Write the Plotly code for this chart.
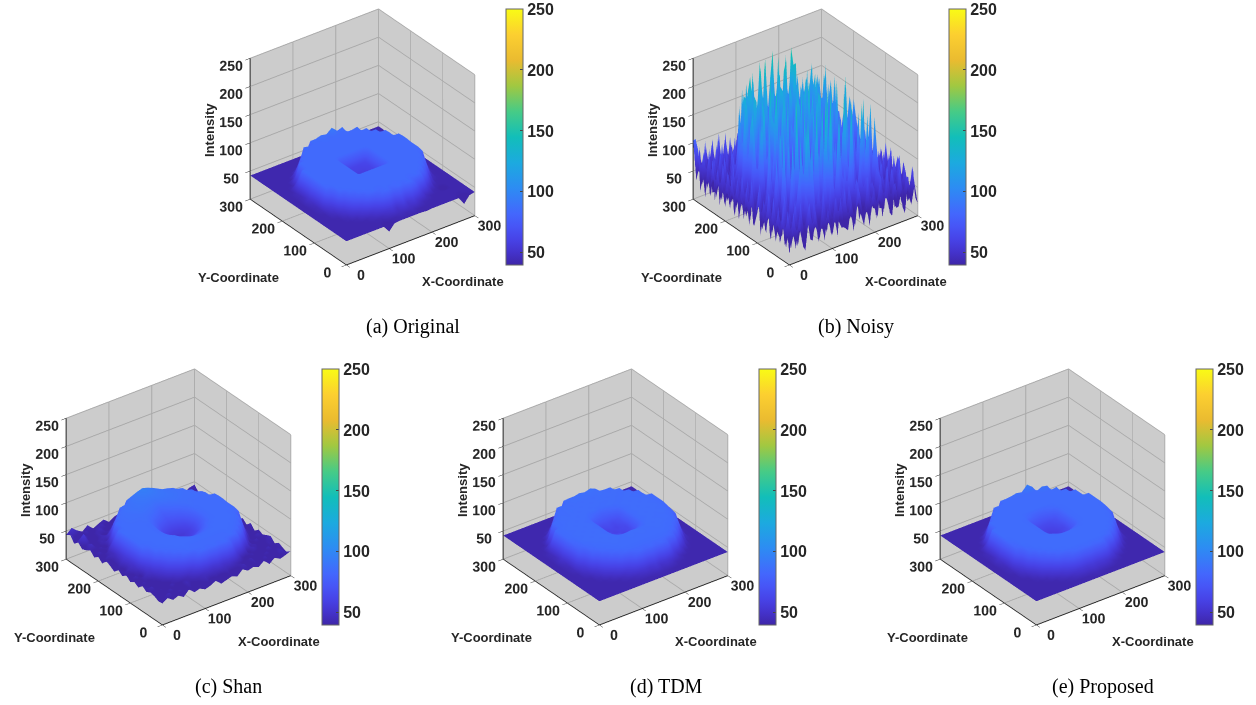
import plotly.graph_objects as go

W, H = 1256, 705
PARULA = [[0.0,"#3e26a8"],[0.05,"#4433cc"],[0.1,"#4743e7"],[0.15,"#4755f6"],[0.2,"#4367fd"],[0.3,"#2d8cf3"],[0.4,"#1caadf"],[0.5,"#12beb9"],[0.6,"#47cb86"],[0.7,"#a1c841"],[0.8,"#eabb30"],[0.9,"#fccf30"],[1.0,"#f9fb15"]]
coords = [0,12.5,25,37.5,50,62.5,75,87.5,100,112.5,125,137.5,150,162.5,175,187.5,200,212.5,225,237.5,250,262.5,275,287.5,300]
coords_noisy = [0,7.5,15,22.5,30,37.5,45,52.5,60,67.5,75,82.5,90,97.5,105,112.5,120,127.5,135,142.5,150,157.5,165,172.5,180,187.5,195,202.5,210,217.5,225,232.5,240,247.5,255,262.5,270,277.5,285,292.5,300]

Z_ORIGINAL = [
[42,42,42,42,42,42,42,42,30,41,42,42,42,42,42,41,42,42,42,42,42,42,28,40,42],
[42,42,42,42,42,42,42,42,40,42,43,46,44,47,43,42,42,42,42,42,42,42,41,42,42],
[42,42,42,42,42,42,42,43,45,52,58,50,64,52,60,50,44,43,42,42,42,42,42,42,42],
[42,42,42,42,42,42,43,50,64,80,84,78,84,80,84,78,62,48,43,42,42,42,42,42,42],
[42,42,42,42,42,45,60,80,84,82,84,84,83,84,84,82,84,80,58,44,42,38,42,42,42],
[42,42,42,42,46,66,82,84,84,84,84,84,84,84,84,84,84,84,82,62,44,42,42,42,42],
[42,42,42,43,58,82,84,84,84,84,84,84,84,84,84,84,84,84,84,80,56,43,42,42,42],
[42,42,43,50,82,84,84,84,84,84,84,84,84,84,84,84,84,84,84,84,80,48,43,42,42],
[42,42,43,62,84,84,84,84,84,84,84,84,84,84,84,84,84,84,84,84,84,60,43,42,42],
[42,42,46,82,84,84,84,84,84,84,84,84,84,84,84,84,84,84,84,84,84,82,46,42,42],
[42,42,46,84,84,84,84,84,84,84,62,62,61,62,63,84,84,84,84,84,84,84,46,42,42],
[42,42,48,84,84,84,84,84,84,84,62,60,59,60,62,84,84,84,84,84,84,84,48,42,42],
[42,42,52,84,84,84,84,84,84,84,61,59,58,59,62,84,84,84,84,84,84,84,52,42,42],
[42,42,48,84,84,84,84,84,84,84,62,60,60,60,62,84,84,84,84,84,84,85,48,42,42],
[42,42,46,85,84,84,84,84,84,84,63,62,62,62,64,84,84,84,84,84,84,85,46,42,42],
[42,42,46,84,84,84,84,84,84,84,84,84,84,84,84,84,84,84,84,84,84,84,46,42,42],
[42,42,43,64,84,84,84,84,84,84,84,84,84,84,84,84,84,84,84,84,85,62,43,42,42],
[42,42,42,46,84,84,84,84,84,84,84,84,84,84,84,84,84,84,84,84,84,46,42,42,42],
[42,42,42,42,56,84,84,84,84,84,84,84,84,84,84,84,84,84,84,84,56,42,42,42,42],
[42,42,42,42,43,62,85,84,84,84,84,84,84,84,84,84,84,84,85,60,43,42,42,42,42],
[42,42,42,42,42,43,56,86,84,84,84,85,84,85,84,84,84,86,54,43,42,42,42,42,42],
[42,42,42,42,42,42,43,46,64,85,85,88,86,94,85,88,62,46,42,42,42,42,42,42,42],
[42,42,42,42,42,42,42,42,43,46,50,56,62,56,50,45,43,42,42,42,42,42,42,42,42],
[42,42,42,42,42,42,42,42,42,42,42,42,42,42,42,42,42,42,42,42,42,42,42,42,42],
[42,42,42,42,42,42,42,42,42,42,42,42,42,42,42,42,42,42,42,42,42,42,42,42,42],
]

Z_SHAN = [
[38,44,37,41,35,45,36,39,34,37,42,33,36,39,35,44,38,41,37,45,35,43,37,40,44],
[37,40,45,36,43,38,42,35,38,44,37,41,36,43,35,38,45,36,42,37,44,35,39,45,37],
[41,36,38,44,37,35,45,40,44,48,52,50,56,50,52,46,41,37,44,36,39,44,37,42,40],
[43,37,42,36,44,39,41,46,60,80,84,82,84,82,84,78,58,44,36,43,37,36,45,37,44],
[39,45,36,40,37,46,62,80,84,84,84,84,84,84,84,84,84,80,58,38,45,40,36,43,38],
[45,37,41,37,48,68,82,84,85,84,84,84,84,84,84,84,85,84,82,64,42,43,37,41,46],
[37,43,38,44,60,82,84,85,85,85,85,85,85,85,85,85,85,85,84,82,56,37,44,37,43],
[42,36,46,52,82,84,85,85,85,85,85,84,83,84,85,85,85,85,85,84,80,48,36,45,39],
[37,44,38,66,84,85,85,85,85,85,82,78,76,78,82,85,85,85,85,85,84,64,42,37,43],
[44,36,48,82,84,85,85,85,85,83,76,70,68,70,76,83,85,85,85,85,84,82,46,40,36],
[38,45,50,84,85,85,85,85,84,78,66,62,60,62,66,78,84,85,85,85,85,84,50,37,45],
[44,37,54,84,85,85,85,85,83,72,62,58,56,58,62,72,83,85,85,85,85,84,54,42,37],
[36,43,56,84,85,85,85,85,83,70,60,56,55,56,60,70,83,85,85,85,85,84,56,37,44],
[41,38,54,85,85,85,85,85,84,74,64,60,58,60,64,74,84,85,85,85,85,85,54,45,37],
[45,37,50,85,85,85,85,85,85,80,72,68,66,68,72,80,85,85,85,85,85,85,50,36,43],
[36,44,46,84,85,85,85,85,86,84,80,76,72,76,80,84,86,85,85,85,85,84,46,44,38],
[43,37,46,66,85,85,86,86,86,86,85,82,78,82,85,86,86,86,86,85,85,64,44,37,45],
[37,44,36,48,84,85,86,86,87,88,87,86,84,86,87,88,87,86,86,85,82,46,37,43,36],
[45,36,43,38,60,85,86,87,88,89,89,89,88,89,89,89,88,87,86,84,56,40,45,37,42],
[40,48,37,44,42,68,85,87,88,89,90,91,91,91,90,89,88,87,85,66,44,37,41,45,37],
[37,43,37,42,45,46,62,85,87,89,91,93,94,93,91,89,87,84,60,43,45,36,44,37,44],
[44,56,40,36,44,38,45,48,66,86,90,94,97,94,90,85,64,44,38,45,37,43,36,45,38],
[37,41,45,37,42,46,37,43,46,46,56,66,72,64,54,46,37,45,41,37,44,38,42,36,43],
[48,38,36,44,37,43,45,37,41,45,37,44,56,42,37,45,42,36,44,37,43,37,45,39,36],
[43,52,44,38,46,36,41,45,37,43,46,37,64,41,45,37,43,38,36,45,40,44,37,43,45],
]

Z_TDM = [
[42,42,42,42,42,42,42,42,42,42,42,42,42,42,42,42,42,42,42,42,42,42,42,42,42],
[42,42,42,42,42,42,42,42,42,42,43,44,45,44,43,42,42,42,42,42,42,42,42,42,42],
[42,42,42,42,42,42,42,43,45,50,54,52,58,50,54,50,44,43,42,42,42,42,42,42,42],
[42,42,42,42,42,42,43,50,62,78,82,80,83,80,82,78,60,48,43,42,42,42,42,42,42],
[42,42,42,42,42,45,58,78,83,84,84,84,84,84,84,84,83,78,56,44,42,42,42,42,42],
[42,42,42,42,46,62,80,84,85,85,85,85,85,85,85,85,85,84,80,60,44,42,42,42,42],
[42,42,42,43,56,80,84,85,85,85,85,85,85,85,85,85,85,85,84,78,54,43,42,42,42],
[42,42,43,50,78,84,85,85,86,85,85,86,85,86,85,85,86,85,85,84,78,48,43,42,42],
[42,42,43,60,82,85,85,86,85,86,85,85,86,85,85,86,85,86,85,85,82,58,43,42,42],
[42,42,46,78,84,85,86,85,86,85,80,76,74,76,80,85,86,85,85,85,84,78,46,42,42],
[42,42,46,80,85,86,85,86,85,84,70,66,64,68,70,84,85,86,85,86,85,80,46,42,42],
[42,42,48,82,85,85,86,85,86,84,66,62,66,60,66,84,86,85,86,85,85,82,48,42,42],
[42,42,52,84,85,86,85,86,85,84,64,66,60,64,64,84,85,86,85,86,85,84,52,42,42],
[42,42,48,84,85,85,86,85,86,84,66,60,64,62,68,84,86,85,86,85,85,84,48,42,42],
[42,42,46,84,85,86,85,86,85,84,68,66,68,66,70,84,85,86,85,86,85,84,46,42,42],
[42,42,46,84,85,85,86,85,86,85,82,78,76,78,82,85,86,85,86,85,85,84,46,42,42],
[42,42,43,60,84,85,85,86,85,86,85,86,84,85,86,85,85,86,85,85,84,58,43,42,42],
[42,42,42,46,84,85,86,85,86,85,86,85,86,85,85,86,85,85,86,85,84,46,42,42,42],
[42,42,42,42,52,84,85,85,86,86,85,86,85,86,86,85,86,85,85,84,52,42,42,42,42],
[42,42,42,42,43,58,85,85,86,85,86,85,86,85,86,86,85,86,85,56,43,42,42,42,42],
[42,42,42,42,42,43,52,85,85,86,86,87,86,87,86,86,85,85,52,43,42,42,42,42,42],
[42,42,42,42,42,42,43,46,58,85,86,86,88,86,89,85,56,46,42,42,42,42,42,42,42],
[42,42,42,42,42,42,42,42,43,46,50,54,60,54,50,45,43,42,42,42,42,42,42,42,42],
[42,42,42,42,42,42,42,42,42,42,42,42,42,42,42,42,42,42,42,42,42,42,42,42,42],
[42,42,42,42,42,42,42,42,42,42,42,42,42,42,42,42,42,42,42,42,42,42,42,42,42],
]

Z_PROPOSED = [
[42,42,42,42,42,42,42,42,42,42,42,42,42,42,42,42,42,42,42,42,42,42,42,42,42],
[42,42,42,42,42,42,42,42,42,42,43,44,46,44,43,42,42,42,42,42,42,42,42,42,42],
[42,42,42,42,42,42,42,43,46,52,56,55,58,55,56,52,45,43,42,42,42,42,42,42,42],
[42,42,42,42,42,42,43,52,66,80,83,82,84,82,83,80,64,50,43,42,42,42,42,42,42],
[42,42,42,42,42,45,60,80,84,85,85,85,85,85,85,85,84,80,58,44,42,42,42,42,42],
[42,42,42,42,46,64,82,85,85,85,85,85,85,85,85,85,85,85,82,62,44,42,42,42,42],
[42,42,42,43,58,82,85,85,85,85,85,85,85,85,85,85,85,85,85,80,56,43,42,42,42],
[42,42,43,52,80,85,85,85,85,85,85,85,85,85,85,85,85,85,85,85,80,50,43,42,42],
[42,42,43,62,84,85,85,85,85,85,85,85,85,85,85,85,85,85,85,85,84,60,43,42,42],
[42,42,46,80,85,85,85,85,85,85,82,78,76,78,82,85,85,85,85,85,85,80,46,42,42],
[42,42,46,82,85,85,85,85,85,84,70,66,64,66,70,84,85,85,85,85,85,82,46,42,42],
[42,42,48,84,85,85,85,85,85,84,66,62,60,62,66,84,85,85,85,85,85,84,48,42,42],
[42,42,52,85,85,85,85,85,85,84,64,60,58,60,64,84,85,85,85,85,85,85,52,42,42],
[42,42,48,85,85,85,85,85,85,84,66,62,60,62,68,84,85,85,85,85,85,85,48,42,42],
[42,42,46,85,85,85,85,85,85,84,68,66,65,66,70,84,85,85,85,85,85,85,46,42,42],
[42,42,46,85,85,85,85,85,85,85,82,78,76,78,82,85,85,85,85,85,85,85,46,42,42],
[42,42,43,62,85,85,85,85,85,85,85,85,85,85,85,85,85,85,85,85,85,60,43,42,42],
[42,42,42,46,85,85,85,85,85,85,85,85,85,85,85,85,85,85,85,85,85,46,42,42,42],
[42,42,42,42,53,85,85,85,85,85,85,85,85,85,85,85,85,85,85,85,53,42,42,42,42],
[42,42,42,42,43,58,85,85,85,85,85,85,85,85,85,85,85,85,87,57,43,42,42,42,42],
[42,42,42,42,42,43,53,85,85,85,85,85,85,85,85,85,90,88,52,43,42,42,42,42,42],
[42,42,42,42,42,42,43,46,60,85,85,86,88,86,96,88,58,46,42,42,42,42,42,42,42],
[42,42,42,42,42,42,42,42,43,46,50,55,60,55,50,45,43,42,42,42,42,42,42,42,42],
[42,42,42,42,42,42,42,42,42,42,42,42,42,42,42,42,42,42,42,42,42,42,42,42,42],
[42,42,42,42,42,42,42,42,42,42,42,42,42,42,42,42,42,42,42,42,42,42,42,42,42],
]

Z_NOISY = [
[18,62,24,71,31,15,67,28,80,21,56,19,74,26,63,17,85,30,23,68,16,59,78,25,54,14,69,27,82,20,65,32,17,73,29,60,13,76,24,57,21],
[57,26,86,33,75,19,44,92,23,69,20,77,31,57,18,84,41,26,93,17,70,24,88,37,15,95,26,72,18,88,34,79,20,66,24,92,21,71,34,87,28],
[29,88,20,54,19,95,25,70,22,86,36,18,98,23,77,15,80,38,64,19,91,33,17,84,46,21,93,35,67,17,84,26,100,19,69,23,86,16,63,29,78],
[80,21,69,34,97,17,63,31,85,16,74,48,23,87,22,99,20,67,36,86,18,72,25,94,19,57,88,15,78,28,91,24,62,34,90,18,73,25,85,19,44],
[28,91,15,75,24,82,48,16,97,38,180,29,94,51,130,36,205,44,170,25,96,48,160,33,72,118,29,165,58,26,95,22,76,41,19,83,30,97,20,65,36],
[75,23,92,20,67,36,88,140,26,210,46,118,28,76,44,240,52,98,30,168,46,112,34,225,58,34,142,46,190,84,28,120,64,21,88,33,80,24,98,26,62],
[35,83,28,100,16,104,38,26,188,62,34,150,66,228,44,82,30,132,58,40,205,36,84,48,168,30,62,210,32,92,48,178,24,102,26,75,19,96,45,18,79],
[71,19,57,26,84,30,148,60,34,112,42,216,36,92,50,162,34,76,240,38,118,46,60,144,36,96,42,70,154,34,64,30,96,28,86,17,90,29,63,88,25],
[21,94,34,18,96,58,34,178,72,40,132,58,88,36,170,48,104,32,62,184,38,74,40,232,64,36,128,46,84,206,40,118,54,30,19,72,34,93,20,47,82],
[84,18,71,45,22,198,44,68,36,244,46,102,38,156,30,70,44,218,40,86,34,148,56,32,96,42,176,34,108,50,36,86,190,36,78,28,96,18,70,28,63],
[30,97,25,77,60,36,128,38,94,46,186,34,72,44,110,36,192,42,64,130,34,52,98,38,160,36,68,138,34,178,44,72,38,120,48,88,16,64,36,94,19],
[62,22,90,17,104,44,70,34,166,30,84,122,40,214,34,90,38,70,160,40,236,38,132,34,50,84,208,36,54,92,42,142,30,66,36,24,92,30,73,18,85],
[17,78,33,58,34,142,40,98,36,72,44,170,34,62,102,38,148,40,96,34,72,44,184,36,110,42,66,36,160,38,84,36,190,40,74,64,19,84,27,98,35],
[92,30,64,88,40,70,36,178,46,128,36,58,92,36,68,176,34,116,36,66,148,34,56,36,82,156,36,104,42,68,120,36,52,98,34,38,76,22,60,44,16],
[44,85,18,36,120,34,90,40,60,34,152,40,82,140,36,48,86,34,198,38,74,36,108,34,52,36,134,34,62,146,38,76,34,40,126,70,24,96,34,82,28],
[25,60,96,28,60,160,36,72,34,96,38,66,36,54,110,34,168,38,62,34,92,44,36,144,36,80,34,56,112,34,40,160,36,96,44,17,88,31,99,19,73],
[78,20,42,76,36,84,44,124,36,174,34,96,46,34,72,36,40,92,34,120,36,60,34,72,36,166,36,94,34,48,78,36,64,36,32,94,20,54,15,66,37],
[33,99,26,58,86,34,60,34,88,36,58,36,118,34,94,40,128,34,48,36,76,34,100,34,42,34,60,36,118,34,92,34,104,34,80,46,27,90,32,84,24],
[85,16,72,34,60,186,36,92,34,172,40,96,34,210,36,84,36,156,34,132,36,48,194,142,36,88,34,172,36,94,36,216,34,148,62,68,34,18,78,23,96],
[26,68,19,95,34,146,88,36,170,34,98,34,196,36,150,34,70,36,212,34,54,136,84,34,188,36,126,34,44,208,34,62,36,172,92,128,96,26,62,86,19],
[64,34,88,21,172,50,60,210,34,94,36,230,34,80,134,48,36,196,34,64,36,222,34,90,196,34,54,36,202,34,74,136,44,128,74,160,54,85,17,40,92],
[18,96,27,50,83,140,48,34,192,36,66,164,60,36,204,34,66,134,40,178,34,60,136,192,34,44,36,180,34,50,134,66,34,188,49,96,30,22,71,28,66],
[75,24,61,15,34,192,46,76,138,44,34,176,36,44,134,72,34,150,36,192,34,46,134,56,36,170,34,44,166,34,52,128,94,42,160,36,84,40,96,18,54],
[20,84,33,94,52,163,90,48,160,90,36,134,48,198,56,36,184,34,62,134,70,34,188,34,40,134,96,34,36,184,42,168,30,85,126,73,47,62,25,77,31],
[90,16,70,28,177,47,136,84,42,150,72,42,236,64,34,142,36,154,34,44,136,52,34,212,60,36,158,34,78,130,62,44,196,39,64,128,94,20,84,34,58],
[34,66,41,83,20,196,46,62,194,40,38,166,46,186,44,72,39,194,50,60,42,180,32,66,140,196,36,62,125,88,38,182,36,174,37,86,41,57,28,97,21],
[68,22,95,18,53,132,82,38,134,176,39,192,45,38,164,36,188,40,74,141,94,36,158,30,184,46,72,140,196,42,154,37,164,130,92,120,72,22,89,18,63],
[29,86,28,64,88,121,60,194,46,58,188,40,169,95,46,152,39,167,97,37,138,174,44,194,48,38,180,39,151,70,46,193,40,178,45,119,96,34,60,24,80],
[62,19,76,22,40,99,137,44,170,39,196,34,122,148,185,39,199,48,142,184,44,196,38,166,41,192,36,164,38,194,40,124,186,41,162,84,23,64,18,96,35],
[21,93,36,57,86,25,172,42,196,33,154,37,183,44,170,48,172,49,140,190,60,47,185,50,172,36,152,188,45,162,39,181,54,198,36,55,28,91,42,70,17],
[84,27,66,19,30,94,44,178,65,186,44,172,40,196,60,190,46,186,38,162,45,220,44,139,196,48,174,38,198,46,166,44,144,58,70,36,86,15,78,25,94],
[23,75,20,95,50,17,76,37,142,190,50,219,37,155,48,138,202,44,170,53,212,36,166,54,143,204,41,148,72,41,192,50,178,26,98,22,62,44,20,88,30],
[96,34,56,17,82,26,99,19,88,148,66,188,84,146,74,224,96,46,178,120,40,198,44,219,52,46,208,42,179,68,144,196,18,64,30,78,18,90,34,60,18],
[25,74,19,88,35,62,18,70,44,16,194,44,152,188,60,166,52,228,60,150,84,190,56,198,53,60,202,60,85,164,58,84,50,20,89,26,58,24,95,22,73],
[70,22,92,30,96,16,86,24,92,36,72,20,196,68,212,70,160,59,228,75,176,47,222,78,152,59,230,94,177,96,30,62,20,96,17,66,34,100,17,48,85],
[18,84,42,21,54,78,28,50,18,82,22,64,34,78,124,192,68,222,76,190,58,232,86,184,70,216,76,64,24,78,20,86,26,60,30,92,18,52,78,28,60],
[58,24,96,17,80,20,97,30,68,22,100,18,92,26,60,18,96,128,62,172,102,180,78,116,58,30,80,18,94,34,70,18,96,22,84,20,72,25,95,18,90],
[21,90,30,72,26,94,18,66,92,17,48,80,16,69,96,20,44,90,17,68,38,96,18,72,92,22,48,96,16,62,22,92,40,18,64,98,17,88,34,64,22],
[95,48,74,18,68,34,82,19,50,28,94,22,86,34,26,80,24,102,18,54,92,22,64,30,26,86,20,70,28,104,18,64,20,82,26,38,68,22,66,20,84],
[110,62,24,99,20,88,18,96,24,84,19,68,20,92,18,64,34,20,98,28,76,18,96,18,70,20,100,24,52,19,88,28,92,18,98,20,86,18,92,30,56],
[104,30,88,20,84,40,94,22,100,18,96,30,72,18,96,22,96,18,62,20,94,40,18,98,22,60,18,88,20,96,18,76,24,68,22,90,20,72,20,84,24],
]

# The noisy spikes are one pixel wide in the reference, so their tips read darker than their height.
C_NOISY = [[40+(v-40)*0.6 for v in row] for row in Z_NOISY]

OFFS = [(0,0,"(a) Original",coords,Z_ORIGINAL,None),(443,0,"(b) Noisy",coords_noisy,Z_NOISY,C_NOISY),(-184,360,"(c) Shan",coords,Z_SHAN,None),(253,360,"(d) TDM",coords,Z_TDM,None),(690,360,"(e) Proposed",coords,Z_PROPOSED,None)]
fig = go.Figure()
lay = {}
anns = []
def A(x,y,t,size=13,bold=True,rot=0,fam="Liberation Sans"):
    anns.append(dict(x=x/W,y=1-y/H,xref="paper",yref="paper",text=f"<b>{t}</b>" if bold else t,showarrow=False,textangle=rot,
        font=dict(family=fam,size=size,color="#262626" if bold else "#000"),xanchor="center",yanchor="middle"))
for i,(dx,dy,cap,cc,Z,C) in enumerate(OFFS):
    name = "scene" if i==0 else f"scene{i+1}"
    x0,x1,y0,y1 = 195+dx,530+dx,0+dy,300+dy
    fig.add_trace(go.Surface(x=cc,y=cc,z=Z,surfacecolor=C,scene=name,colorscale=PARULA,cmin=40,cmax=250,
        lighting=dict(ambient=1,diffuse=0,specular=0,roughness=1,fresnel=0),
        colorbar=dict(x=(506+dx)/W,xanchor="left",xpad=0,ypad=0,y=1-(9+dy)/H,yanchor="top",len=256,lenmode="pixels",thickness=17,thicknessmode="pixels",
            tickvals=[50,100,150,200,250],ticks="inside",ticklen=3,outlinecolor="#666",outlinewidth=1,
            tickfont=dict(family="Liberation Sans",size=16,color="#262626",weight="bold"))))
    ax = dict(showbackground=True,backgroundcolor="#cccccc",gridcolor="#a9a9a9",showspikes=False,zeroline=False,showline=True,linecolor="#262626",linewidth=2,ticks="outside",ticklen=6,tickcolor="#262626",tickangle=0,title="",
        tickfont=dict(family="Liberation Sans",size=13,color="#262626",weight="bold"))
    lay[name] = dict(domain=dict(x=[x0/W,x1/W],y=[1-y1/H,1-y0/H]),
        xaxis=dict(ax,range=[0,300],tickvals=[0,100,200,300]),
        yaxis=dict(ax,range=[0,300],tickvals=[0,100,200,300]),
        zaxis=dict(ax,range=[0,250],tickvals=[0,50,100,150,200,250]),
        aspectmode="manual",aspectratio=dict(x=1.07,y=1.07,z=1.094),
        camera=dict(projection=dict(type="orthographic"),eye=dict(x=-1.03,y=-1.374,z=0.923),up=dict(x=0,y=0,z=1),center=dict(x=0,y=0,z=-0.101)))
    A(238+dx,277+dy,"Y-Coordinate"); A(463+dx,281+dy,"X-Coordinate"); A(209+dx,130+dy,"Intensity",rot=-90)
    A(413+dx,326+dy,cap,size=20,bold=False,fam="Liberation Serif")
fig.update_layout(width=W,height=H,margin=dict(l=0,r=0,t=0,b=0),paper_bgcolor="white",annotations=anns,**lay)
fig.write_html("out.html",config=dict(displayModeBar=False),post_script="document.body.style.margin='0';")
